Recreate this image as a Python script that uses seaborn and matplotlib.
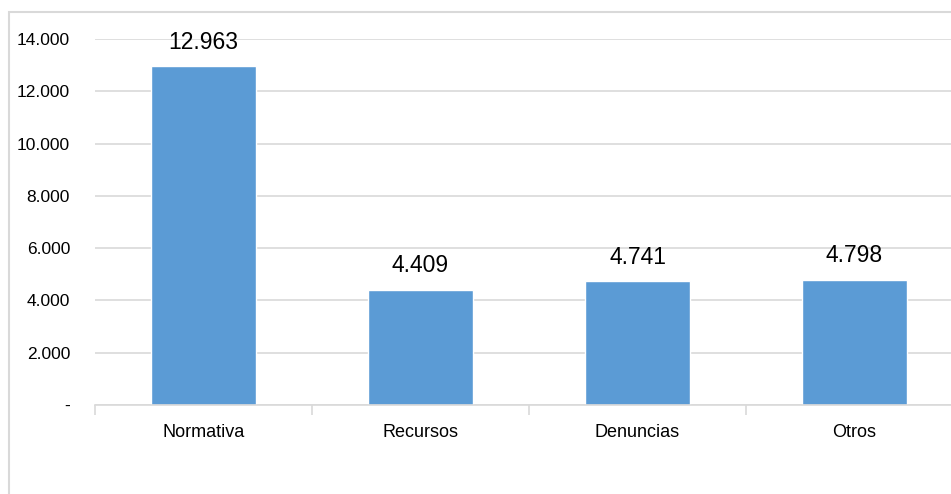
import numpy as np
import pandas as pd
import matplotlib
matplotlib.use("Agg")
import matplotlib.pyplot as plt
import matplotlib.ticker as mticker
from matplotlib.patches import Rectangle
import seaborn as sns

categorias = ["Normativa", "Recursos", "Denuncias", "Otros"]
valores = [12963, 4409, 4741, 4798]

def fmt_miles(v):
    v = int(round(v))
    if v == 0:
        return "-"
    return f"{v:,}".replace(",", ".")

df = pd.DataFrame({"categoria": categorias, "valor": valores})

sns.set_theme(style="white")
plt.rcParams["font.family"] = ["Liberation Sans", "DejaVu Sans"]

fig = plt.figure(figsize=(9.51, 4.94), dpi=100)
ax = fig.add_axes([95 / 951, 1 - 405 / 494, 868 / 951, (405 - 39) / 494])

sns.barplot(data=df, x="categoria", y="valor", color="#5B9BD5", width=0.485,
            saturation=1, ax=ax)

ax.set_ylim(0, 14000)
ax.set_xlim(-0.5, len(categorias) - 0.5)
ax.yaxis.set_major_locator(mticker.MultipleLocator(2000))
ax.yaxis.set_major_formatter(mticker.FuncFormatter(lambda v, p: fmt_miles(v)))
ax.grid(axis="y", color="#d9d9d9", linewidth=1.2)
ax.set_axisbelow(True)
ax.set_xlabel("")
ax.set_ylabel("")

for s in ["left", "top", "right"]:
    ax.spines[s].set_visible(False)
ax.spines["bottom"].set_color("#d9d9d9")
ax.spines["bottom"].set_linewidth(1.2)

# marcas entre categorias
ax.set_xticks(np.arange(-0.5, len(categorias), 1), minor=True)
ax.tick_params(axis="x", which="minor", length=7, width=1.2, color="#d9d9d9", bottom=True)
ax.tick_params(axis="x", which="major", length=0, pad=14, labelsize=13, labelcolor="black")
ax.tick_params(axis="y", length=0, pad=18, labelsize=12.5, labelcolor="black")

ax.bar_label(ax.containers[0], labels=[fmt_miles(v) for v in valores],
             padding=9, fontsize=16.5, color="black")

# marco del grafico
fig.patches.append(Rectangle((9 / 951, -0.1), 2, 1.1 - 12 / 494,
                             transform=fig.transFigure, fill=False,
                             edgecolor="#d9d9d9", linewidth=1.5))

fig.savefig("out.png", dpi=100)
